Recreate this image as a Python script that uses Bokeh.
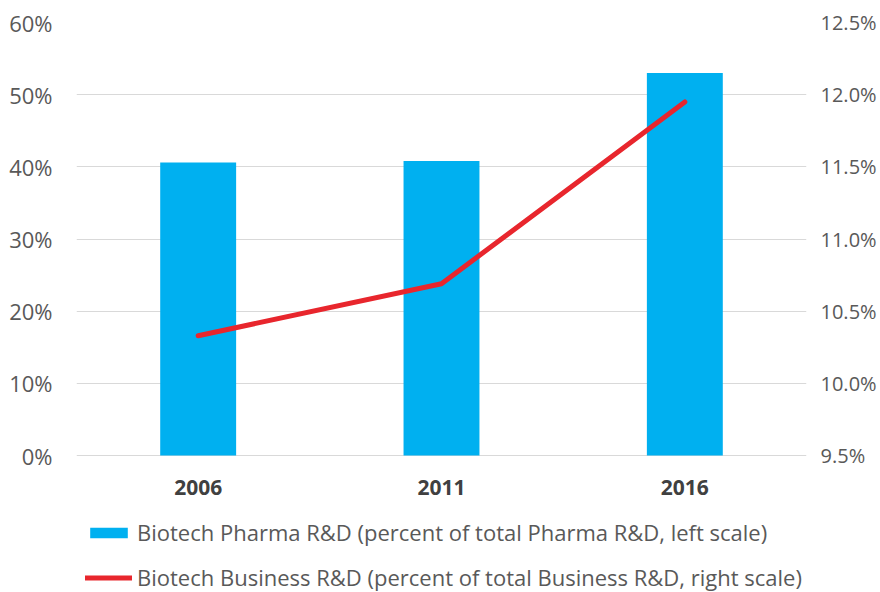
from bokeh.plotting import figure
from bokeh.models import (Range1d, FactorRange, PrintfTickFormatter, LinearAxis,
                          Legend, LegendItem, FixedTicker)
from bokeh.core.properties import value
from bokeh.embed import file_html
from bokeh.resources import INLINE

years = ["2006", "2011", "2016"]
pharma_share = [40.6, 40.8, 53.0]
business_share = [10.33, 10.69, 11.95]
left_ticks = [0, 10, 20, 30, 40, 50, 60]
right_ticks = [9.5, 10.0, 10.5, 11.0, 11.5, 12.0, 12.5]
label_bar = "Biotech Pharma R&D (percent of total Pharma R&D, left scale)"
label_line = "Biotech Business R&D (percent of total Business R&D, right scale)"

FONT = "Open Sans"
TXT = "#595959"

# frame spans the chart plus the legend area below it; the value axes
# only cover 0..60 (left) and 9.5..12.5 (right)
TOP, ZERO_Y, BOTTOM = 22, 455, 592
px_per_unit = (ZERO_Y - TOP) / (left_ticks[-1] - left_ticks[0])
left_min = left_ticks[0] - (BOTTOM - ZERO_Y) / px_per_unit
r_px_per_unit = (ZERO_Y - TOP) / (right_ticks[-1] - right_ticks[0])
right_min = right_ticks[0] - (BOTTOM - ZERO_Y) / r_px_per_unit

p = figure(frame_width=730, frame_height=BOTTOM - TOP,
           x_range=FactorRange(*years, range_padding=0),
           y_range=Range1d(left_min, left_ticks[-1]),
           output_backend="svg", toolbar_location=None,
           min_border_left=76, min_border_right=74, min_border_top=TOP,
           min_border_bottom=0, outline_line_color=None)
p.extra_y_ranges = {"right": Range1d(right_min, right_ticks[-1])}

bars = p.vbar(x=years, top=pharma_share, width=0.312, fill_color="#00B0F0",
              line_color=None)
line = p.line(x=years, y=business_share, y_range_name="right", line_width=5,
              line_color="#E8262D", line_cap="round")

# category labels under the baseline
p.text(x=years, y=[left_ticks[0]] * len(years), text=years,
       text_font=value(FONT), text_font_style="bold", text_font_size="21px",
       text_color="#404040", text_align="center", text_baseline="middle",
       y_offset=32)

# left axis
ya = p.yaxis[0]
ya.ticker = FixedTicker(ticks=left_ticks)
ya.formatter = PrintfTickFormatter(format="%d%%")
ya.axis_line_color = None
ya.major_tick_line_color = None
ya.minor_tick_line_color = None
ya.major_label_text_font = FONT
ya.major_label_text_font_size = "22px"
ya.major_label_text_color = TXT
ya.major_label_standoff = 18

ra = LinearAxis(y_range_name="right", ticker=FixedTicker(ticks=right_ticks),
                formatter=PrintfTickFormatter(format="%.1f%%"))
ra.axis_line_color = None
ra.major_tick_line_color = None
ra.minor_tick_line_color = None
ra.major_label_text_font = FONT
ra.major_label_text_font_size = "20px"
ra.major_label_text_color = TXT
ra.major_label_standoff = 8
p.add_layout(ra, "right")

p.xaxis.visible = False
p.xgrid.grid_line_color = None
p.ygrid.ticker = FixedTicker(ticks=left_ticks)
p.ygrid.grid_line_color = "#d9d9d9"
p.ygrid.grid_line_width = 1

legend = Legend(items=[LegendItem(label=label_bar, renderers=[bars]),
                       LegendItem(label=label_line, renderers=[line])],
                location=(9, 0), orientation="vertical",
                border_line_color=None, background_fill_alpha=0,
                glyph_width=47, glyph_height=13, label_standoff=5,
                spacing=15, padding=0, margin=0,
                label_text_font=FONT, label_text_font_size="22px",
                label_text_color=TXT)
p.add_layout(legend, "center")

open("out.html", "w").write(file_html(p, INLINE))
